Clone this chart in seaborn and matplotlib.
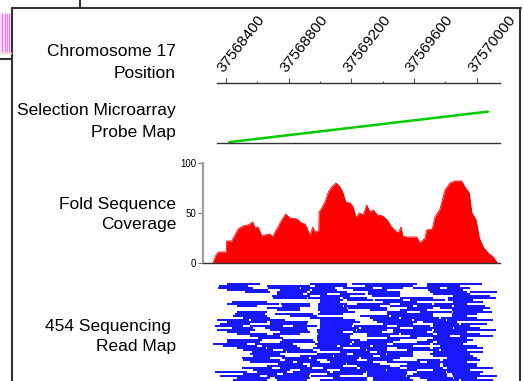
import pandas as pd
import seaborn as sns
import matplotlib.pyplot as plt
from matplotlib.patches import Rectangle
from matplotlib.lines import Line2D

# chromosome 17 position ticks
major_ticks = [37568400, 37568800, 37569200, 37569600, 37570000]
minor_ticks = [37568600, 37569000, 37569400, 37569800]

# selection microarray probe map (start / end of the tiled probes)
probe_pos = [37568420, 37570072]
probe_height = [0.02, 0.73]

# fold sequence coverage
cov_pos = [37568318, 37568323, 37568336, 37568351, 37568402, 37568404, 37568436, 37568457,
           37568477, 37568508, 37568540, 37568570, 37568585, 37568604, 37568628, 37568649,
           37568681, 37568698, 37568713, 37568732, 37568755, 37568781, 37568808, 37568851,
           37568883, 37568904, 37568917, 37568936, 37568953, 37568968, 37568983, 37568992,
           37568994, 37569011, 37569032, 37569053, 37569075, 37569102, 37569123, 37569145,
           37569164, 37569191, 37569212, 37569230, 37569251, 37569276, 37569298, 37569319,
           37569340, 37569366, 37569400, 37569429, 37569457, 37569489, 37569500, 37569517,
           37569528, 37569553, 37569617, 37569638, 37569670, 37569681, 37569717, 37569734,
           37569766, 37569798, 37569830, 37569861, 37569904, 37569925, 37569953, 37569968,
           37569996, 37570017, 37570042, 37570074, 37570106, 37570128, 37570132]
cov_val = [0, 3, 8, 11, 11, 22, 22, 28,
           34, 37, 38, 41, 35, 36, 27, 28,
           29, 26, 31, 36, 43, 49, 45, 44,
           40, 39, 35, 27, 36, 31, 32, 32,
           51, 55, 61, 71, 76, 80, 77, 71,
           61, 60, 56, 45, 50, 48, 58, 51,
           53, 48, 47, 43, 36, 31, 30, 36,
           27, 26, 26, 20, 25, 33, 34, 46,
           54, 73, 80, 82, 82, 76, 70, 51,
           43, 25, 16, 10, 6, 1, 0]

# 454 reads, one list per display row, (start, end) relative to read_offset
read_offset = 37568000
read_rows = [
    [(404, 617), (936, 1170), (1202, 1617), (1680, 2031)],
    [(355, 542), (659, 936), (968, 1170), (1287, 1595), (1680, 1893)],
    [(351, 574), (670, 872), (880, 1095), (1149, 1340), (1393, 1531), (1595, 1765), (1808, 1957)],
    [(404, 670), (745, 936), (950, 1106), (1212, 1425), (1691, 1914)],
    [(521, 681), (723, 915), (936, 1170), (1308, 1510), (1702, 1936), (1957, 2127)],
    [(723, 893), (915, 1042), (1127, 1290), (1305, 1510), (1723, 1957)],
    [(691, 936), (1000, 1191), (1329, 1510), (1851, 2085)],
    [(702, 915), (925, 1127), (1149, 1298), (1510, 1723), (1819, 2123)],
    [(1000, 1149), (1170, 1340), (1350, 1531), (1574, 1800), (1815, 1978)],
    [(436, 659), (1000, 1127), (1404, 1617), (1851, 2042)],
    [(404, 740), (750, 936), (989, 1170), (1234, 1446), (1510, 1718), (1728, 1936)],
    [(468, 596), (755, 936), (989, 1149), (1155, 1383), (1446, 1595), (1617, 1845), (1856, 2053)],
    [(659, 872), (989, 1170), (1180, 1425), (1553, 1723), (1765, 2085)],
    [(723, 872), (989, 1181), (1319, 1425), (1510, 1680), (1840, 2042)],
    [(468, 659), (1000, 1223), (1425, 1553), (1638, 1840), (1850, 2095)],
    [(457, 649), (713, 957), (989, 1149), (1425, 1723), (1840, 1999)],
    [(447, 659), (808, 979), (1255, 1440), (1452, 1723), (1840, 1936)],
    [(511, 681), (936, 1149), (1319, 1505), (1515, 1760), (1770, 1999)],
    [(340, 548), (558, 776), (1000, 1223), (1340, 1590), (1600, 1803), (1813, 2106)],
    [(404, 659), (681, 925), (1000, 1255), (1361, 1617), (1659, 1872)],
    [(362, 553), (681, 915), (1000, 1212), (1404, 1595), (1723, 1888), (1898, 2063)],
    [(330, 511), (553, 766), (830, 979), (1000, 1207), (1217, 1425), (1489, 1702), (1723, 1957)],
    [(436, 574), (649, 915), (1000, 1250), (1260, 1510), (1595, 1846), (1856, 2021)],
    [(340, 585), (681, 925), (979, 1229), (1239, 1425), (1468, 1718), (1728, 2123)],
    [(404, 553), (745, 936), (979, 1149), (1212, 1393), (1468, 1680), (1723, 1936)],
    [(468, 659), (702, 872), (989, 1212), (1298, 1505), (1515, 1723), (1744, 2021)],
    [(553, 745), (979, 1191), (1298, 1446), (1574, 1829), (1893, 2106)],
    [(606, 766), (979, 1191), (1425, 1617), (1723, 1936)],
    [(404, 628), (755, 957), (979, 1255), (1298, 1510), (1680, 1978)],
    [(404, 617), (745, 968), (989, 1207), (1217, 1468), (1617, 1723), (1744, 1936)],
    [(319, 532), (585, 830), (968, 1191), (1202, 1425), (1468, 1702), (1723, 1914)],
    [(383, 596), (628, 851), (979, 1106), (1127, 1319), (1340, 1595), (1765, 1999)],
    [(468, 654), (664, 872), (957, 1149), (1255, 1425), (1489, 1702), (1723, 2042)],
    [(511, 702), (766, 957), (1000, 1293), (1303, 1425), (1553, 1760), (1770, 1936)],
    [(564, 782), (792, 979), (1127, 1319), (1361, 1595), (1723, 2042)],
    [(553, 745), (979, 1170), (1212, 1420), (1430, 1595), (1702, 1957)],
    [(574, 776), (872, 1080), (1090, 1340), (1383, 1595), (1723, 1978)],
    [(500, 681), (755, 931), (941, 1250), (1260, 1510), (1808, 1999)],
    [(511, 745), (776, 979), (1042, 1234), (1298, 1468), (1617, 1765), (1787, 2021)],
    [(553, 830), (851, 1000), (1064, 1340), (1425, 1638), (1680, 1936)],
    [(734, 893), (936, 1165), (1175, 1383), (1553, 1765), (1787, 1999)],
    [(659, 915), (936, 1149), (1234, 1446), (1510, 1765), (1787, 1999)],
    [(500, 691), (745, 947), (1021, 1234), (1255, 1510), (1553, 1787), (1808, 2106)],
    [(574, 808), (872, 1042), (1127, 1420), (1430, 1617), (1723, 1957)],
    [(330, 532), (596, 787), (830, 1064), (1085, 1293), (1303, 1553), (1617, 1803), (1813, 2042)],
    [(511, 723), (766, 936), (1042, 1276), (1298, 1553), (1595, 1808), (1840, 2021)],
    [(362, 617), (659, 931), (941, 1127), (1298, 1548), (1558, 1808), (1851, 2127)],
    [(468, 681), (713, 936), (1085, 1298), (1340, 1574), (1638, 1846), (1856, 1999)],
    [(447, 659), (723, 915), (1000, 1298), (1340, 1595), (1680, 1888), (1898, 2106)],
]

labels = [("Chromosome 17", 52), ("Position", 73),
          ("Selection Microarray", 111), ("Probe Map", 132),
          ("Fold Sequence", 204), ("Coverage", 225),
          ("454 Sequencing ", 326), ("Read Map", 347)]

sns.set_theme(style="white")
plt.rcParams['font.family'] = ['Liberation Sans', 'DejaVu Sans']

W, H = 523, 381
fig = plt.figure(figsize=(W / 100, H / 100), dpi=100)


def rect(x0, y0, x1, y1):
    # pixel box (from top-left) -> figure fraction
    return [x0 / W, 1 - y1 / H, (x1 - x0) / W, (y1 - y0) / H]


xlim = (37568253, 37570149)
dark = "#333333"

# position axis
ax_pos = fig.add_axes(rect(203, 83, 500, 90))
ax_pos.set_xlim(xlim)
ax_pos.set_ylim(0, 1)
for s in ["left", "right", "bottom"]:
    ax_pos.spines[s].set_visible(False)
ax_pos.spines["top"].set_color(dark)
ax_pos.spines["top"].set_linewidth(1.0)
ax_pos.spines["top"].set_bounds(37568343, xlim[1])
ax_pos.set_yticks([])
ax_pos.set_xticks(major_ticks)
ax_pos.set_xticks(minor_ticks, minor=True)
ax_pos.xaxis.tick_top()
ax_pos.tick_params(axis="x", which="major", direction="out", length=3.5, width=0.8,
                   color="#555555", pad=2.5, labelsize=11, labelcolor="black",
                   top=True, bottom=False)
ax_pos.tick_params(axis="x", which="minor", direction="out", length=1.8, width=0.8,
                   color="#555555", top=True, bottom=False)
ax_pos.set_xticklabels([str(t) for t in major_ticks])
for lbl in ax_pos.get_xticklabels():
    lbl.set_rotation(52)
    lbl.set_ha("left")
    lbl.set_va("bottom")
    lbl.set_rotation_mode("anchor")

# probe map
ax_probe = fig.add_axes(rect(203, 100, 500, 143))
sns.lineplot(x=probe_pos, y=probe_height, ax=ax_probe, color="#00cc00", linewidth=1.8)
ax_probe.set_xlim(xlim)
ax_probe.set_ylim(0, 1)
for s in ["left", "right", "top"]:
    ax_probe.spines[s].set_visible(False)
ax_probe.spines["bottom"].set_color(dark)
ax_probe.spines["bottom"].set_linewidth(1.0)
ax_probe.spines["bottom"].set_bounds(37568343, xlim[1])
ax_probe.set_xticks([])
ax_probe.set_yticks([])

# coverage
ax_cov = fig.add_axes(rect(203, 163, 500, 263))
cov = pd.DataFrame({"pos": cov_pos, "val": cov_val})
ax_cov.fill_between(cov["pos"], 0, cov["val"], color="#ff0000", linewidth=0)
sns.lineplot(data=cov, x="pos", y="val", ax=ax_cov, color="#ff0000", linewidth=0.6)
ax_cov.set_xlim(xlim)
ax_cov.set_ylim(0, 100)
ax_cov.spines["top"].set_visible(False)
ax_cov.spines["right"].set_visible(False)
ax_cov.spines["left"].set_color("#a0a0a0")
ax_cov.spines["left"].set_linewidth(1.6)
ax_cov.spines["bottom"].set_color(dark)
ax_cov.spines["bottom"].set_linewidth(1.0)
ax_cov.set_xticks([])
ax_cov.set_yticks([0, 50, 100])
ax_cov.tick_params(axis="y", left=True, direction="out", length=3.5, width=0.8,
                   color="#777777", pad=1.5, labelsize=7, labelcolor="black")
ax_cov.set_xlabel("")
ax_cov.set_ylabel("")

# read map
reads = pd.DataFrame([(i, read_offset + a, read_offset + b)
                      for i, row in enumerate(read_rows) for a, b in row],
                     columns=["row", "start", "end"])
ax_reads = fig.add_axes(rect(203, 282, 500, 381))
ax_reads.hlines(reads["row"], reads["start"], reads["end"], color="#0000ff", linewidth=1.3)
ax_reads.set_xlim(xlim)
ax_reads.set_ylim(len(read_rows) - 0.5, -1)
ax_reads.axis("off")

# row labels
for txt, y in labels:
    fig.text(176 / W, 1 - y / H, txt, ha="right", va="center", fontsize=12.5, color="black")

# frame of the cropped figure
frame = [((12, 521), (8, 8)), ((12, 12), (8, 381)), ((520, 520), (8, 381)),
         ((80, 80), (0, 8)), ((0, 12), (59, 59))]
for xs, ys in frame:
    fig.add_artist(Line2D([x / W for x in xs], [1 - y / H for y in ys],
                          color=dark, linewidth=1.5))
fig.add_artist(Rectangle((0, 1 - 52 / H), 11 / W, 39 / H, transform=fig.transFigure,
                         facecolor="#ffd6ff", edgecolor="none"))
for x in [2, 5, 7, 9]:
    fig.add_artist(Line2D([x / W, x / W], [1 - 52 / H, 1 - 14 / H], color="#ee66ee",
                          linewidth=0.6))
fig.add_artist(Line2D([0, 11 / W], [1 - 52.5 / H, 1 - 52.5 / H], color="#e8dcc0",
                      linewidth=1.0))

fig.savefig("out.png", dpi=100)
